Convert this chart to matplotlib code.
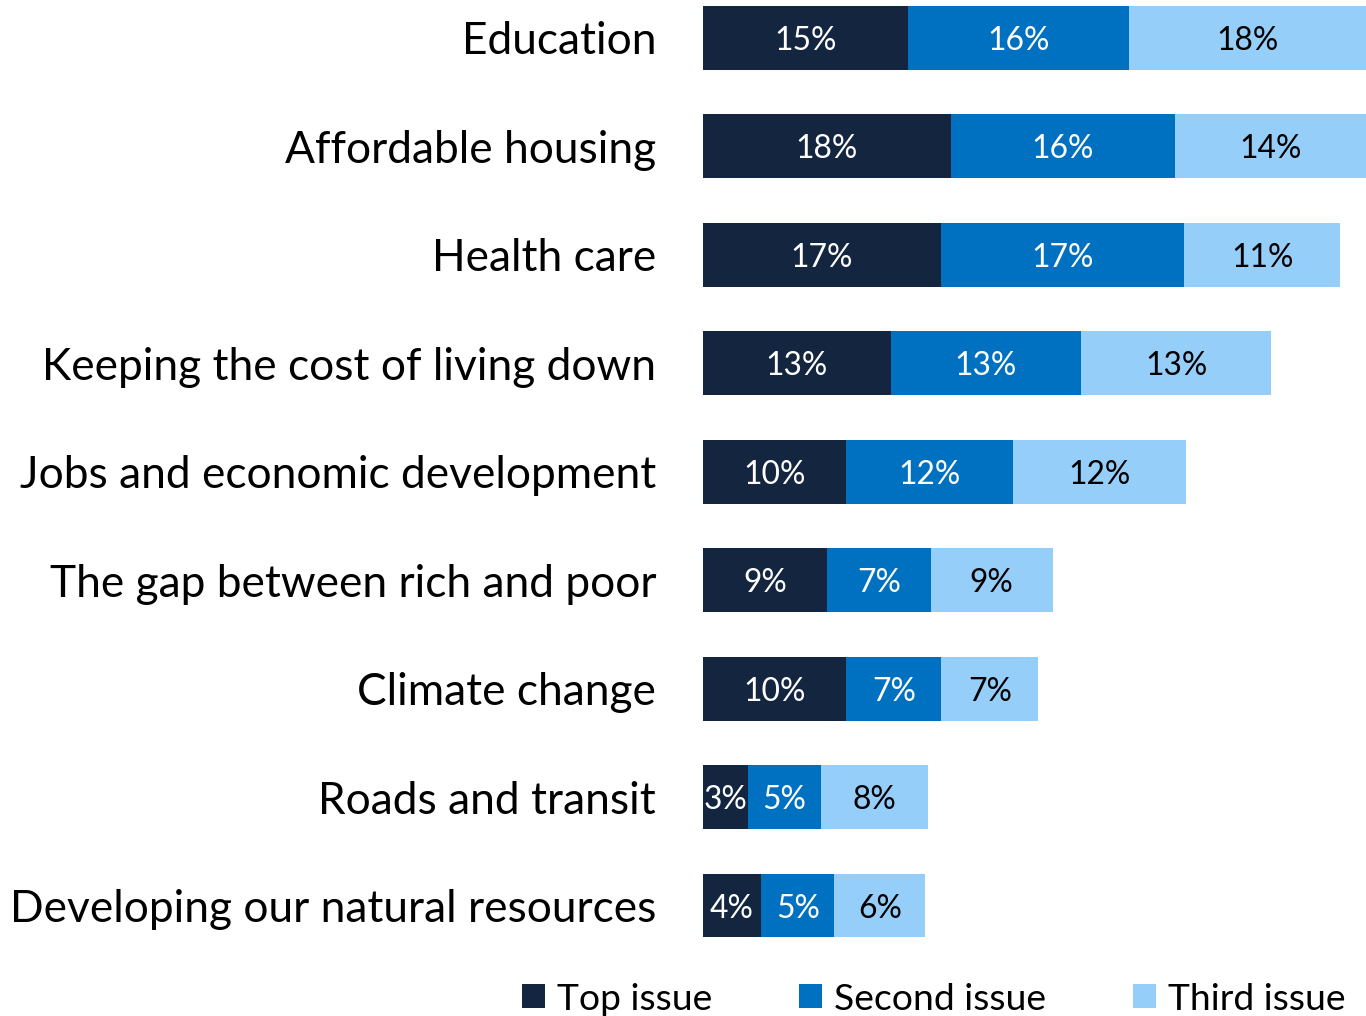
import matplotlib
matplotlib.use("Agg")
import matplotlib.pyplot as plt
import numpy as np

categories = [
    "Education",
    "Affordable housing",
    "Health care",
    "Keeping the cost of living down",
    "Jobs and economic development",
    "The gap between rich and poor",
    "Climate change",
    "Roads and transit",
    "Developing our natural resources",
]
top_issue = [14.54, 17.55, 16.88, 13.29, 10.15, 8.81, 10.15, 3.23, 4.14]
second_issue = [15.57, 15.84, 17.15, 13.46, 11.82, 7.31, 6.73, 5.12, 5.18]
third_issue = [17.9, 14.0, 11.03, 13.44, 12.22, 8.62, 6.86, 7.62, 6.43]
series_names = ["Top issue", "Second issue", "Third issue"]

colors = ["#13253F", "#0070C0", "#96CEFA"]
text_colors = ["white", "white", "black"]

FONT = ["Lato", "DejaVu Sans"]
plt.rcParams["font.family"] = FONT

W, H = 1366, 1016
fig = plt.figure(figsize=(W / 100, H / 100), dpi=100)

# axes placement (pixels)
left_px = 702.5
top_center, bottom_center = 38.0, 905.5
step = (bottom_center - top_center) / 8
ax_top = top_center - step / 2
ax_bot = bottom_center + step / 2
ax = fig.add_axes([left_px / W, 1 - ax_bot / H, 1 - left_px / W, (ax_bot - ax_top) / H])

y = np.arange(len(categories))
series = [top_issue, second_issue, third_issue]
lefts = np.zeros(len(categories))
containers = []
for vals, col, name in zip(series, colors, series_names):
    bc = ax.barh(y, vals, left=lefts, height=0.59, color=col, label=name, edgecolor="none")
    containers.append(bc)
    lefts = lefts + np.array(vals)

ax.set_xlim(0, (W - left_px) / 14.15)
ax.set_ylim(len(categories) - 0.5, -0.5)
for s in ax.spines.values():
    s.set_visible(False)
ax.set_xticks([])
ax.set_yticks(y)
ax.set_yticklabels(categories)
ax.tick_params(axis="y", length=0, pad=46.5 * 0.72)

fig.canvas.draw()
r = fig.canvas.get_renderer()

# fit category label size: longest label width ~645 px
base = 30
for t in ax.get_yticklabels():
    t.set_fontsize(base)
fig.canvas.draw()
wmax = max(t.get_window_extent(r).width for t in ax.get_yticklabels())
cat_size = base * 645 / wmax
for t in ax.get_yticklabels():
    t.set_fontsize(cat_size)

# data label size: "15%" width ~62.5 px
probe = fig.text(0, 0, "15%", fontsize=base)
fig.canvas.draw()
lab_size = base * 62.5 / probe.get_window_extent(r).width
probe.remove()

for bc, vals, tc in zip(containers, series, text_colors):
    anns = ax.bar_label(bc, labels=[f"{v:.0f}%" for v in vals], label_type="center",
                        color=tc, fontsize=lab_size)
    for a in anns:
        a.set_va("center_baseline")

# legend size: "Top issue" width ~155 px
probe = fig.text(0, 0, "Top issue", fontsize=base)
fig.canvas.draw()
leg_size = base * 155 / probe.get_window_extent(r).width
probe.remove()

sq_pt = 23 * 0.72
leg = fig.legend(handles=containers, labels=series_names, loc="center",
                 bbox_to_anchor=(933.5 / W, 1 - 999 / H), ncol=3, frameon=False,
                 fontsize=leg_size, handlelength=sq_pt / leg_size, handleheight=sq_pt / leg_size,
                 handletextpad=12 * 0.72 / leg_size, columnspacing=87 * 0.72 / leg_size,
                 borderpad=0, borderaxespad=0)

fig.savefig("out.png", dpi=100)
